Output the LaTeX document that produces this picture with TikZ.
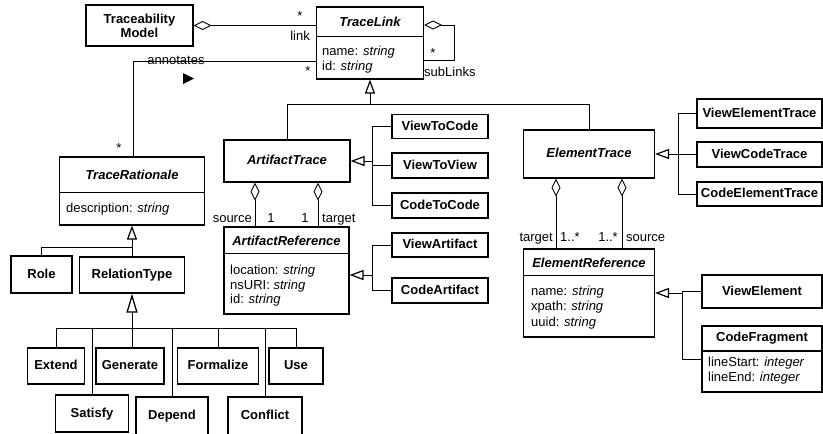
\documentclass[tikz,border=0pt]{standalone}
\usepackage{fontspec}
\setmainfont{Liberation Sans}
\usetikzlibrary{arrows.meta}
\begin{document}
\begin{tikzpicture}[x=1pt,y=-1pt,
  font=\fontsize{13}{15}\selectfont,
  box/.style={draw, line width=1.1pt, inner sep=0pt, align=center,
    text height=9.5pt, text depth=2.5pt, font=\fontsize{13}{15}\selectfont\bfseries},
  frame/.style={draw, line width=1.1pt, inner sep=0pt},
  ttl/.style={inner sep=0pt, anchor=base, font=\fontsize{13}{15}\selectfont\bfseries\itshape},
  ttlb/.style={inner sep=0pt, anchor=base, font=\fontsize{13}{15}\selectfont\bfseries},
  attr/.style={inner sep=0pt, anchor=base west},
  lbl/.style={inner sep=0pt, anchor=base},
  divider/.style={line width=1.1pt},
  conn/.style={line width=0.9pt},
  gen/.style={conn, -{Triangle[open,width=10pt,length=14pt,line width=1.2pt]}},
  genbig/.style={conn, -{Triangle[open,width=11pt,length=19pt,line width=1.3pt]}},
  agg/.style={conn, {Diamond[open,width=9pt,length=18pt,line width=0.9pt]}-},
]
\useasboundingbox (0,0) rectangle (823,434);
\clip (0,0) rectangle (823,434);

% ---------- TraceabilityModel / TraceLink ----------
\node[box, minimum width=107pt, minimum height=41pt, text height=, text depth=] (tm) at (139.5,25.5) {Traceability\\[-1pt]Model};
\node[frame, minimum width=107pt, minimum height=72pt] (tl) at (370,43) {};
\draw[divider] ([yshift=-30pt]tl.north west) -- ([yshift=-30pt]tl.north east);
\node[ttl] (tlt) at (370,26) {TraceLink};
\node[attr] (tla1) at (322,55) {name: \textit{string}};
\node[attr] (tla2) at (322,70.5) {id: \textit{string}};

\draw[agg] (tm.east) -- (tm.east -| tl.west);
\node[lbl] (s1) at (300,20) {*};
\node[lbl, anchor=base east] (lnk) at (310,40.5) {link};

\coordinate (sl1) at (454,25);
\coordinate (sl2) at (454,60);
\draw[agg] (sl1 -| tl.east) -- (sl1) -- (sl2) -- (sl2 -| tl.east);
\node[lbl] (s2) at (433,57) {*};
\node[attr] (subl) at (424,76.5) {subLinks};

% ---------- annotates ----------
\node[frame, minimum width=145pt, minimum height=68pt] (tr) at (132,191) {};
\draw[divider] ([yshift=-36pt]tr.north west) -- ([yshift=-36pt]tr.north east);
\node[ttl] (trt) at (132,179.5) {TraceRationale};
\node[attr] (tra1) at (66,212.5) {description: \textit{string}};

\coordinate (annc) at (133,61);
\draw[conn] (annc -| tl.west) -- (annc) -- (annc |- tr.north);
\node[lbl] (annl) at (176,64) {annotates};
\node[lbl] (s3) at (308,75) {*};
\node[lbl] (s4) at (119,152) {*};
\fill (183,73) -- (194,78.5) -- (183,84) -- cycle;

% ---------- Role / RelationType ----------
\node[box, minimum width=61pt, minimum height=37pt] (role) at (41.5,274.5) {Role};
\node[box, minimum width=105pt, minimum height=36pt] (reltype) at (132,275) {RelationType};
\coordinate (b1) at (132,247);
\draw[gen] (reltype.north) -- (tr.south);
\draw[conn] (role.north) -- (role.north |- b1) -- (b1);

\node[box, minimum width=57pt, minimum height=36pt] (extend) at (56,366) {Extend};
\node[box, minimum width=68pt, minimum height=36pt] (generate) at (130,366) {Generate};
\node[box, minimum width=81pt, minimum height=36pt] (formalize) at (218,366) {Formalize};
\node[box, minimum width=54pt, minimum height=36pt] (use) at (296,366) {Use};
\node[box, minimum width=73pt, minimum height=37pt] (satisfy) at (92,413.5) {Satisfy};
\node[box, minimum width=72pt, minimum height=43pt, text depth=7.5pt] (depend) at (172,418.5) {Depend};
\node[box, minimum width=74pt, minimum height=43pt, text depth=7.5pt] (conflict) at (265,418.5) {Conflict};

\coordinate (b2) at (132,328);
\draw[genbig] (b2) -- (reltype.south);
\draw[conn] (extend.north |- b2) -- (use.north |- b2);
\draw[conn] (b2) -- (b2 |- generate.north);
\foreach \n in {extend,formalize,use,satisfy,depend,conflict}
  \draw[conn] (\n.north) -- (\n.north |- b2);

% ---------- ArtifactTrace / ElementTrace ----------
\node[box, minimum width=126pt, minimum height=42pt, font=\fontsize{13}{15}\selectfont\bfseries\itshape] (at) at (287,161) {ArtifactTrace};
\node[box, minimum width=131pt, minimum height=48pt, font=\fontsize{13}{15}\selectfont\bfseries\itshape] (et) at (589,154) {ElementTrace};
\coordinate (b3) at (370,104);
\draw[gen] (b3) -- (tl.south);
\draw[conn] (at.north) -- (at.north |- b3) -- (et.north |- b3) -- (et.north);

\node[box, minimum width=96pt, minimum height=24pt] (v2c) at (440,126.5) {ViewToCode};
\node[box, minimum width=96pt, minimum height=25pt] (v2v) at (440,165.5) {ViewToView};
\node[box, minimum width=96pt, minimum height=25pt] (c2c) at (440,205.5) {CodeToCode};
\coordinate (b4) at (372,161);
\draw[gen] (b4) -- (at.east);
\draw[conn] (v2c.west) -- (v2c.west -| b4) -- (c2c.west -| b4) -- (c2c.west);
\draw[conn] (v2v.west) -- (v2v.west -| b4);

% ---------- ArtifactReference ----------
\node[frame, minimum width=125pt, minimum height=87pt] (ar) at (286.5,270.5) {};
\draw[divider] ([yshift=-27pt]ar.north west) -- ([yshift=-27pt]ar.north east);
\node[ttl] (art) at (286.5,245) {ArtifactReference};
\node[attr] (ara1) at (230,274.5) {location: \textit{string}};
\node[attr] (ara2) at (230,289) {nsURI: \textit{string}};
\node[attr] (ara3) at (230,303.5) {id: \textit{string}};

\coordinate (x1) at (255,0);
\coordinate (x2) at (318,0);
\draw[agg] (x1 |- at.south) -- (x1 |- ar.north);
\draw[agg] (x2 |- at.south) -- (x2 |- ar.north);
\node[lbl, anchor=base east] (srcA) at (252,222) {source};
\node[lbl] (oneA) at (271,222) {1};
\node[lbl] (oneB) at (305,222) {1};
\node[lbl, anchor=base west] (tgtA) at (322,222) {target};

\node[box, minimum width=96pt, minimum height=24pt] (va) at (440,245) {ViewArtifact};
\node[box, minimum width=96pt, minimum height=25pt] (ca) at (440,290.5) {CodeArtifact};
\coordinate (b5) at (372,275);
\draw[gen] (b5) -- (b5 -| ar.east);
\draw[conn] (va.west) -- (va.west -| b5) -- (ca.west -| b5) -- (ca.west);

% ---------- ElementTrace children ----------
\node[box, minimum width=125pt, minimum height=29pt] (vet) at (759.5,113.5) {ViewElementTrace};
\node[box, minimum width=125pt, minimum height=25pt] (vct) at (759.5,154.5) {ViewCodeTrace};
\node[box, minimum width=125pt, minimum height=24pt] (cet) at (759.5,194) {CodeElementTrace};
\coordinate (b6) at (678,154);
\draw[gen] (b6) -- (et.east);
\draw[conn] (vet.west) -- (vet.west -| b6) -- (cet.west -| b6) -- (cet.west);
\draw[conn] (vct.west) -- (vct.west -| b6);

% ---------- ElementReference ----------
\node[frame, minimum width=131pt, minimum height=88pt] (er) at (589,293) {};
\draw[divider] ([yshift=-27pt]er.north west) -- ([yshift=-27pt]er.north east);
\node[ttl] (ert) at (589,267) {ElementReference};
\node[attr] (era1) at (531,295) {name: \textit{string}};
\node[attr] (era2) at (531,310.5) {xpath: \textit{string}};
\node[attr] (era3) at (531,326) {uuid: \textit{string}};

\coordinate (x3) at (556,0);
\coordinate (x4) at (622,0);
\draw[agg] (x3 |- et.south) -- (x3 |- er.north);
\draw[agg] (x4 |- et.south) -- (x4 |- er.north);
\node[lbl, anchor=base east] (tgtE) at (553,241.5) {target};
\node[lbl, anchor=base west] (mA) at (560,241.5) {1..*};
\node[lbl, anchor=base east] (mB) at (618,241.5) {1..*};
\node[lbl, anchor=base west] (srcE) at (626,241.5) {source};

\node[box, minimum width=120pt, minimum height=33pt] (ve) at (762,291.5) {ViewElement};
\node[frame, minimum width=120pt, minimum height=66pt] (cf) at (762,359) {};
\draw[divider] ([yshift=-25.5pt]cf.north west) -- ([yshift=-25.5pt]cf.north east);
\node[ttlb] (cft) at (762,341) {CodeFragment};
\node[attr] (cfa1) at (708,366) {lineStart: \textit{integer}};
\node[attr] (cfa2) at (708,381.5) {lineEnd: \textit{integer}};

\coordinate (b7) at (682,293);
\coordinate (b8) at (682,359);
\draw[gen] (b7) -- (b7 -| er.east);
\draw[conn] (ve.west) -- (ve.west -| b7) -- (b8) -- (b8 -| cf.west);
\end{tikzpicture}
\end{document}
